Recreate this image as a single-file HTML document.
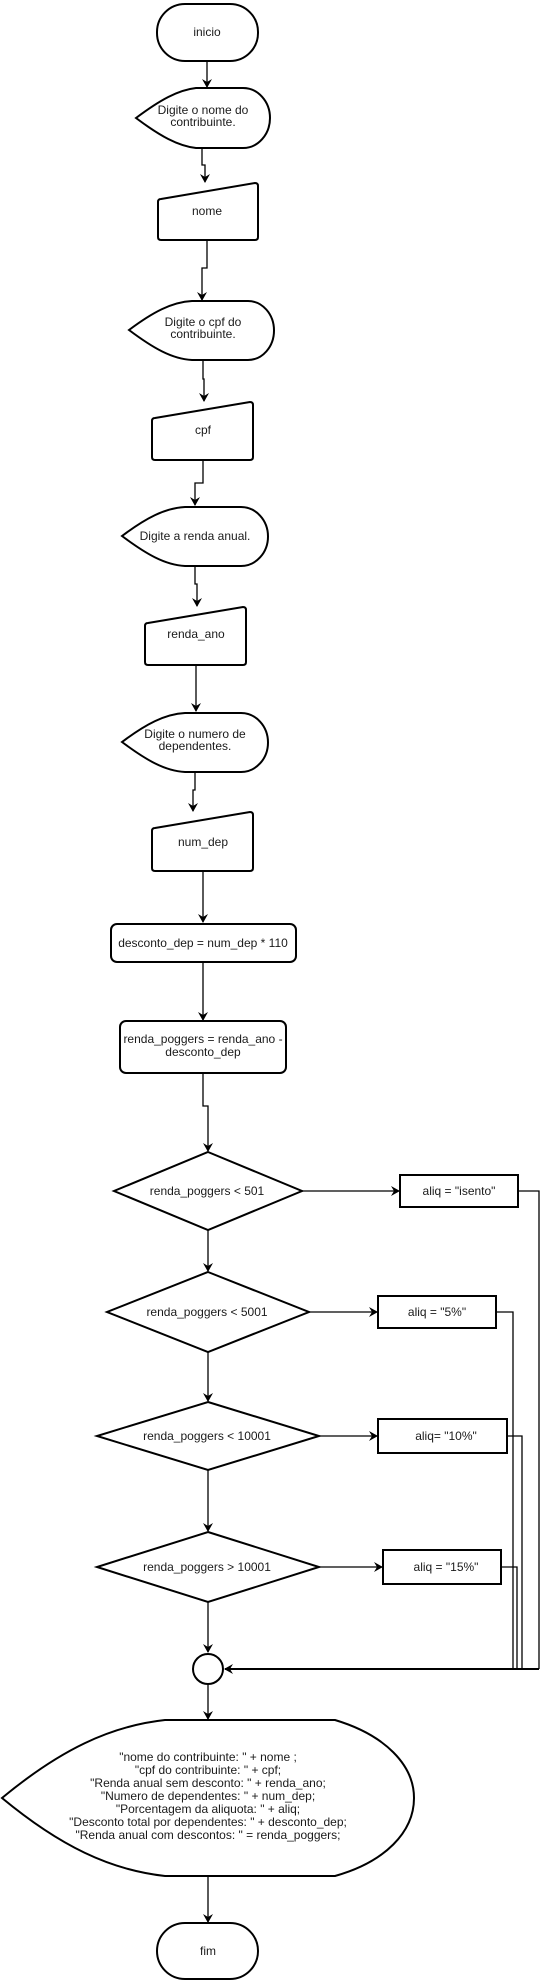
<!DOCTYPE html>
<html><head><meta charset="utf-8"><style>
html,body{margin:0;padding:0;background:#fff;}
svg{display:block;}
text{font-family:"Liberation Sans",Arial,sans-serif;font-size:12px;fill:#1a1a1a;text-anchor:middle;}
.s{fill:#fff;stroke:#000;stroke-width:2;}
.l{fill:none;stroke:#000;stroke-width:1.3;}
</style></head><body>
<svg width="546" height="1982" viewBox="0 0 546 1982" xmlns="http://www.w3.org/2000/svg">
<defs><marker id="a" markerWidth="10" markerHeight="10" refX="8" refY="5" orient="auto" markerUnits="userSpaceOnUse"><path d="M0,0 L9,5 L0,10 L3,5 z" fill="#000"/></marker></defs>

<rect class="s" x="157" y="4" width="101" height="57" rx="28"/>
<text x="207" y="36">inicio</text>
<line class="l" x1="207" y1="61" x2="207" y2="87" marker-end="url(#a)"/>

<path class="s" d="M136,118 C160,100 178,90 196,88 L243,88 A27,30 0 0 1 243,148 L196,148 C178,146 160,136 136,118 Z"/>
<text x="203" y="114">Digite o nome do</text><text x="203" y="126">contribuinte.</text>
<polyline class="l" points="202,148 202,165 205,165 205,182" marker-end="url(#a)"/>

<path class="s" d="M161,199 L255,183 Q258,183 258,186 L258,237 Q258,240 255,240 L161,240 Q158,240 158,237 L158,202 Q158,199 161,199 Z"/>
<text x="207" y="215">nome</text>
<polyline class="l" points="207,240 207,268 202,268 202,300" marker-end="url(#a)"/>

<path class="s" d="M129,330 C153,312 172,302 192,301 L248,301 A26,29.5 0 0 1 248,360 L192,360 C172,359 153,348 129,330 Z"/>
<text x="203" y="326">Digite o cpf do</text><text x="203" y="338">contribuinte.</text>
<polyline class="l" points="203,360 203,379 204,379 204,401" marker-end="url(#a)"/>

<path class="s" d="M155,418 L250,402 Q253,402 253,405 L253,457 Q253,460 250,460 L155,460 Q152,460 152,457 L152,421 Q152,418 155,418 Z"/>
<text x="203" y="434">cpf</text>
<polyline class="l" points="203,460 203,483 195,483 195,505" marker-end="url(#a)"/>

<path class="s" d="M122,536 C146,518 165,508 185,507 L241,507 A27,29.5 0 0 1 241,566 L185,566 C165,565 146,554 122,536 Z"/>
<text x="195" y="540">Digite a renda anual.</text>
<polyline class="l" points="195,566 195,584 197,584 197,606" marker-end="url(#a)"/>

<path class="s" d="M148,623 L243,607 Q246,607 246,610 L246,662 Q246,665 243,665 L148,665 Q145,665 145,662 L145,626 Q145,623 148,623 Z"/>
<text x="196" y="638">renda_ano</text>
<line class="l" x1="196" y1="665" x2="196" y2="711" marker-end="url(#a)"/>

<path class="s" d="M122,742 C146,724 165,714 185,713 L241,713 A27,29.5 0 0 1 241,772 L185,772 C165,771 146,760 122,742 Z"/>
<text x="195" y="738">Digite o numero de</text><text x="195" y="750">dependentes.</text>
<polyline class="l" points="195,772 195,790 193,790 193,811" marker-end="url(#a)"/>

<path class="s" d="M155,828 L250,812 Q253,812 253,815 L253,868 Q253,871 250,871 L155,871 Q152,871 152,868 L152,831 Q152,828 155,828 Z"/>
<text x="203" y="846">num_dep</text>
<line class="l" x1="203" y1="871" x2="203" y2="922" marker-end="url(#a)"/>

<rect class="s" x="111" y="924" width="185" height="38" rx="6"/>
<text x="203" y="947">desconto_dep = num_dep * 110</text>
<line class="l" x1="203" y1="962" x2="203" y2="1020" marker-end="url(#a)"/>

<rect class="s" x="120" y="1021" width="166" height="52" rx="6"/>
<text x="203" y="1043">renda_poggers = renda_ano -</text><text x="203" y="1056">desconto_dep</text>
<polyline class="l" points="203,1073 203,1106 208,1106 208,1151" marker-end="url(#a)"/>

<path class="s" d="M208,1152 L302,1191 L208,1230 L114,1191 Z"/>
<text x="207" y="1195">renda_poggers &lt; 501</text>
<line class="l" x1="302" y1="1191" x2="399" y2="1191" marker-end="url(#a)"/>
<rect class="s" x="400" y="1175" width="118" height="32"/>
<text x="459" y="1195">aliq = "isento"</text>
<polyline class="l" points="518,1191 539,1191 539,1669"/>
<line class="l" x1="208" y1="1230" x2="208" y2="1271" marker-end="url(#a)"/>

<path class="s" d="M208,1272 L309,1312 L208,1352 L107,1312 Z"/>
<text x="207" y="1316">renda_poggers &lt; 5001</text>
<line class="l" x1="309" y1="1312" x2="377" y2="1312" marker-end="url(#a)"/>
<rect class="s" x="378" y="1296" width="118" height="32"/>
<text x="437" y="1316">aliq = "5%"</text>
<polyline class="l" points="496,1312 513,1312 513,1669"/>
<line class="l" x1="208" y1="1352" x2="208" y2="1401" marker-end="url(#a)"/>

<path class="s" d="M208,1402 L319,1436 L208,1470 L97,1436 Z"/>
<text x="207" y="1440">renda_poggers &lt; 10001</text>
<line class="l" x1="319" y1="1436" x2="377" y2="1436" marker-end="url(#a)"/>
<rect class="s" x="378" y="1419" width="129" height="34"/>
<text x="446" y="1440">aliq= "10%"</text>
<polyline class="l" points="507,1436 522,1436 522,1669"/>
<line class="l" x1="208" y1="1470" x2="208" y2="1531" marker-end="url(#a)"/>

<path class="s" d="M208,1532 L319,1567 L208,1602 L97,1567 Z"/>
<text x="207" y="1571">renda_poggers &gt; 10001</text>
<line class="l" x1="319" y1="1567" x2="382" y2="1567" marker-end="url(#a)"/>
<rect class="s" x="383" y="1550" width="118" height="34"/>
<text x="446" y="1571">aliq = "15%"</text>
<polyline class="l" points="501,1567 517,1567 517,1669"/>
<line class="l" x1="208" y1="1602" x2="208" y2="1652" marker-end="url(#a)"/>

<circle class="s" cx="208" cy="1669" r="15"/>
<line class="l" x1="539" y1="1669" x2="225" y2="1669" marker-end="url(#a)" style="stroke-width:2"/>
<line class="l" x1="208" y1="1684" x2="208" y2="1719" marker-end="url(#a)"/>

<path class="s" d="M2,1798 C60,1750 110,1726 165,1720 L335,1720 C385,1735 414,1765 414,1798 C414,1832 385,1862 335,1876 L165,1876 C110,1870 60,1846 2,1798 Z"/>
<text x="208" y="1761">"nome do contribuinte: " + nome ;</text>
<text x="208" y="1774">"cpf do contribuinte: " + cpf;</text>
<text x="208" y="1787">"Renda anual sem desconto: " + renda_ano;</text>
<text x="208" y="1800">"Numero de dependentes:  " + num_dep;</text>
<text x="208" y="1813">"Porcentagem da aliquota: " + aliq;</text>
<text x="208" y="1826">"Desconto total por dependentes:  " + desconto_dep;</text>
<text x="208" y="1839">"Renda  anual com descontos: " = renda_poggers;</text>
<line class="l" x1="208" y1="1876" x2="208" y2="1922" marker-end="url(#a)"/>

<rect class="s" x="157" y="1923" width="101" height="56" rx="28"/>
<text x="208" y="1955">fim</text>
</svg>
</body></html>
